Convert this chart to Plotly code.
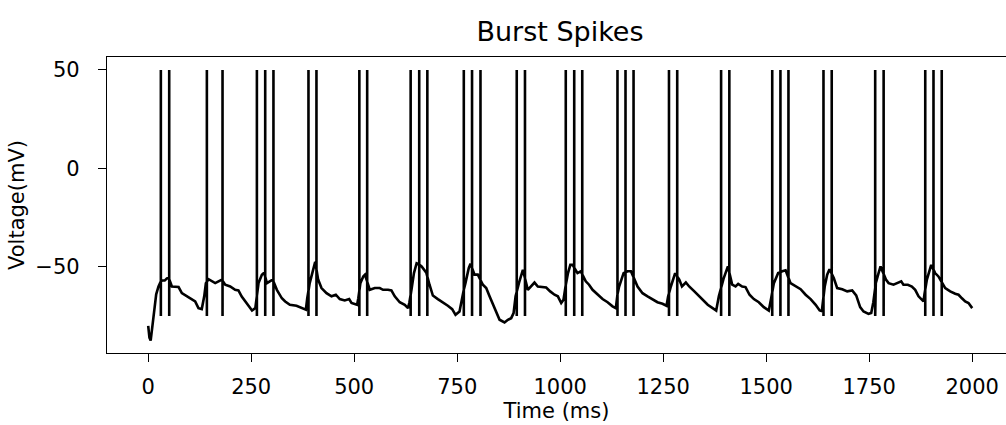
import numpy as np
import plotly.graph_objects as go

# ---- data ----
trace_t = [0, 3, 6, 8, 10, 14.6, 19.4, 25, 29,
           34, 40, 45, 49.5,
           57.5, 65.6, 73.7, 81.7, 93.8, 106, 114, 122, 130, 136, 140,
           146.4, 154.5, 162.6, 170.7, 178.8,
           186.9, 199, 211, 219, 227, 239, 252, 260,
           267.8, 275.9, 281.6,
           288, 296, 302,
           312.3, 324.4, 332.5, 343.9, 360, 372, 382.7, 386,
           392, 400, 405.3,
           412.5, 420.6, 432.8, 444.9, 455.4, 465, 477, 487.7, 493.4, 501.5, 507, 510,
           515, 522, 526,
           537.9, 550, 562, 570, 582, 590.3, 598.4, 610.5, 622.6, 630.7, 634,
           639, 645, 651.5, 656,
           663.6, 671.7, 675,
           682.8, 690.9, 703, 715, 727.3, 737.8, 745.9, 755.6, 762,
           770, 778, 782.2,
           792, 800,
           812.3, 820.4, 828.5, 836.6, 844.7, 852.8, 864.9, 873, 881, 886.8, 891.7,
           899.8, 905.4, 909.4,
           921.4, 929.5, 937.6, 945.7, 957.8, 965.9, 975.7, 986.2, 994.3, 1002.4, 1008, 1011,
           1018.9, 1024.6, 1030,
           1042, 1050,
           1062, 1070, 1078.5, 1090.6, 1102.8, 1115, 1127, 1135, 1137,
           1143, 1149.7, 1153.8,
           1163.5, 1171.6,
           1187.7, 1199.8, 1212, 1224, 1236, 1248.3, 1258, 1262,
           1268.6, 1274, 1279,
           1289, 1295.5, 1305, 1313, 1325.6, 1337.7, 1350, 1358, 1370, 1378.6, 1385,
           1397, 1402.9, 1407,
           1417.5, 1425.6, 1432, 1441.7, 1449.8, 1459.5, 1470, 1482, 1494.2, 1506.3, 1512,
           1518.6, 1524.3, 1529,
           1539, 1547,
           1559, 1571, 1583.5, 1595.6, 1607.8, 1620, 1629.7, 1635,
           1642, 1648, 1653.6,
           1664, 1672.3, 1684.5, 1696.6, 1708.7, 1718.4, 1728, 1736.2, 1748.4, 1754.9, 1760,
           1766, 1772.7, 1777.5,
           1790.6, 1797, 1809, 1819.6, 1827.7, 1833, 1843.8, 1853.5, 1861.6, 1869.7, 1881.8, 1884,
           1890, 1895.6, 1900.5,
           1910, 1918,
           1934.5, 1946.6, 1958.7, 1966.8, 1975, 1983, 1991, 2000]
trace_v = [-80, -86, -87.5, -84, -80, -70, -64, -60, -57.5,
           -57, -57, -56, -55.5,
           -60, -60, -60.3, -63.4, -65, -66.3, -67.6, -71, -71.5, -65, -58.3,
           -56.3, -57.4, -58.3, -57.4, -56.5,
           -59.1, -60, -61.7, -62, -65.1, -68.4, -72.2, -71,
           -58.3, -54, -53,
           -58.3, -57.4, -56.5,
           -61.7, -66, -67.6, -69.3, -69.8, -71, -71.8, -66,
           -58.3, -52.3, -47.5,
           -56.5, -60.8, -63.4, -65, -64.2, -66.4, -67.1, -66.4, -68.4, -68.8, -69.3, -66,
           -58.3, -54.9, -54,
           -61.7, -60.8, -60.8, -61.7, -61.7, -62, -65, -68, -69.3, -71, -68,
           -61.7, -53.2, -48.2, -48.5,
           -49.8, -52.3, -53,
           -59.1, -64.6, -66.4, -68, -69.8, -71.5, -74.4, -72.7, -65,
           -58.3, -50.7, -48.5,
           -54, -54,
           -59.1, -60.8, -65, -69.3, -72.7, -76.9, -78.3, -76.9, -76.1, -73.5, -65,
           -58.3, -54, -51.5,
           -61.7, -60, -58, -60, -60.3, -60.5, -62.5, -64.2, -65, -68.4, -66.7, -62,
           -53.2, -49, -49,
           -53.2, -52.3,
           -57.4, -59.1, -61.7, -64.2, -66.4, -68, -70.1, -71, -66,
           -60, -54.9, -53.2,
           -52.3, -52.3,
           -60, -63.4, -65, -66.7, -68, -68.8, -69.8, -65,
           -60, -55.7, -53.2,
           -56.5, -60, -58, -60, -62.5, -65, -67.6, -69.3, -71, -72.2, -65,
           -55.7, -52.3, -49.8,
           -59.1, -60, -58.7, -60, -60.3, -64.2, -66.4, -68, -70.5, -72.2, -66,
           -58.3, -54.9, -53.2,
           -52.3, -51.8,
           -58.3, -60, -61.4, -64.2, -66.4, -69.3, -72.2, -72.5,
           -60, -54, -51.2,
           -55.7, -60.8, -61.4, -62.5, -62, -64.5, -70.5, -72.7, -73.9, -73.5, -68,
           -58.3, -53.2, -49.8,
           -56.5, -58.3, -59.1, -58.3, -57.4, -59.1, -59.1, -60, -61.7, -65, -67.6, -64,
           -56.5, -52.3, -49,
           -53.2, -54.9,
           -60.8, -62.5, -63.7, -64.2, -66, -67.6, -68.4, -71]

spike_t = [30.7, 51, 142.4, 180.4, 263.8, 284, 304, 389, 408.4, 512.5, 531.5,
           637, 657.8, 677.5, 766, 786, 806.5, 894.5, 914.5, 1013.5, 1034, 1053.5,
           1139, 1158.5, 1178, 1264, 1284, 1390.5, 1410.5, 1514.6, 1534.5, 1554,
           1639, 1659, 1764.5, 1785, 1886, 1906, 1926]
spike_peak = 50
spike_reset = -75

x_ticks = [0, 250, 500, 750, 1000, 1250, 1500, 1750, 2000]
y_ticks = [-50, 0, 50]
y_ticktext = ["\u221250", "0", "50"]

# ---- merge the subthreshold trace with the spikes (vertical spike strokes) ----
pts = list(zip(trace_t, trace_v))
for ts in spike_t:
    v_here = float(np.interp(ts, trace_t, trace_v))
    pts.append((ts - 0.02, v_here))
    pts.append((ts, spike_peak))
    pts.append((ts + 0.02, spike_reset))
    pts.append((ts + 0.04, v_here))
pts.sort(key=lambda p: p[0])
xs = [p[0] for p in pts]
ys = [p[1] for p in pts]

FONT = "DejaVu Sans"

fig = go.Figure()
fig.add_trace(go.Scatter(x=xs, y=ys, mode="lines",
                         line=dict(color="black", width=2.6),
                         showlegend=False, hoverinfo="skip"))

fig.update_layout(
    width=1006, height=425,
    margin=dict(l=107, r=0, t=57, b=72, autoexpand=False),
    paper_bgcolor="white", plot_bgcolor="white",
    font=dict(family=FONT, color="black", size=21),
    title=dict(text="Burst Spikes", x=560 / 1006, xref="container", xanchor="center",
               y=1 - 32 / 425, yref="container", yanchor="middle",
               font=dict(family=FONT, size=27, color="black")),
)
fig.update_xaxes(
    range=[-100, 2082], tickmode="array", tickvals=x_ticks,
    ticks="outside", ticklen=8, tickwidth=1.3, tickcolor="black",
    showline=True, linecolor="black", linewidth=1.3, mirror=True,
    showgrid=False, zeroline=False,
    tickfont=dict(family=FONT, size=21, color="black"),
    ticklabelstandoff=7,
    title=dict(text="Time (ms)", font=dict(family=FONT, size=21, color="black"), standoff=4),
)
fig.update_yaxes(
    range=[-93.8, 56.6], tickmode="array", tickvals=y_ticks, ticktext=y_ticktext,
    ticks="outside", ticklen=8, tickwidth=1.3, tickcolor="black",
    showline=True, linecolor="black", linewidth=1.3, mirror=False,
    showgrid=False, zeroline=False,
    tickfont=dict(family=FONT, size=21, color="black"),
    ticklabelstandoff=14,
    title=dict(text="Voltage(mV)", font=dict(family=FONT, size=21, color="black"), standoff=4),
)

fig.write_html("out.html",
               config={"displayModeBar": False},
               post_script="document.body.style.margin='0';document.body.style.overflow='hidden';")
